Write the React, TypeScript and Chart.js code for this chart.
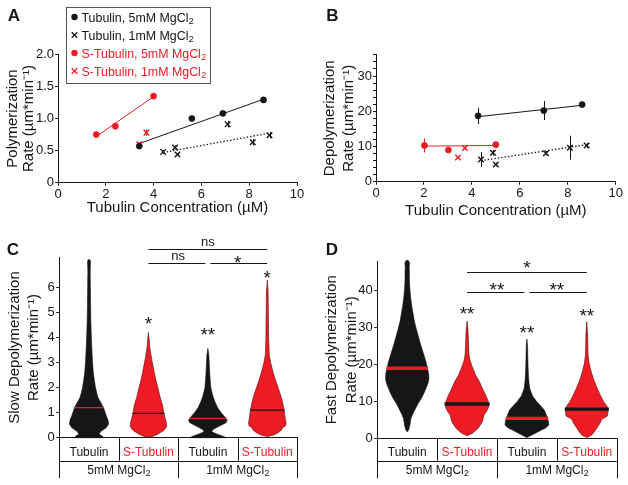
import React, { useEffect, useRef } from 'react';
import { Chart, registerables } from 'chart.js';

Chart.register(...registerables);

const FONT = "'Liberation Sans', Arial, Helvetica, sans-serif";
const INK = '#161616';
const RED = '#ed1c24';
Chart.defaults.font.family = FONT;

// ---------------- Panel A: polymerization rate ----------------
const aTub5X = [3.4, 5.6, 6.9, 8.6];
const aTub5Y = [0.57, 1.0, 1.08, 1.29];
const aTub5Err = [0.02, 0.02, 0.02, 0.02];
const aTub1X = [4.4, 4.9, 5.0, 7.1, 8.15, 8.85];
const aTub1Y = [0.48, 0.55, 0.44, 0.91, 0.63, 0.74];
const aTub1Err = [0.03, 0.03, 0.02, 0.05, 0.05, 0.05];
const aSTub5X = [1.6, 2.4, 4.0];
const aSTub5Y = [0.75, 0.88, 1.35];
const aSTub5Err = [0.02, 0.02, 0.02];
const aSTub1X = [3.4, 3.7];
const aSTub1Y = [0.6, 0.78];
const aSTub1Err = [0.03, 0.05];
const aTub5FitX = [3.4, 8.6];
const aTub5FitY = [0.61, 1.3];
const aTub1FitX = [4.4, 8.95];
const aTub1FitY = [0.47, 0.78];
const aSTub5FitX = [1.6, 4.0];
const aSTub5FitY = [0.72, 1.34];
const aXTicks = [0, 2, 4, 6, 8, 10];
const aYTicks = [0, 0.5, 1.0, 1.5, 2.0];
const aYTickLabels = ['0', '0.5', '1.0', '1.5', '2.0'];

// ---------------- Panel B: depolymerization rate ----------------
const bTub5X = [4.26, 7.0, 8.6];
const bTub5Y = [18.7, 20.2, 21.9];
const bTub5Err = [2.3, 2.7, 0.8];
const bTub1X = [4.38, 4.88, 5.0, 7.09, 8.09, 8.79];
const bTub1Y = [6.3, 8.2, 4.9, 8.1, 9.65, 10.3];
const bTub1Err = [2.1, 0.8, 0.5, 0.6, 3.4, 0.7];
const bSTub5X = [2.02, 3.02, 5.0];
const bSTub5Y = [10.3, 9.0, 10.5];
const bSTub5Err = [2.0, 0.5, 0.6];
const bSTub1X = [3.42, 3.71];
const bSTub1Y = [6.9, 9.55];
const bSTub1Err = [0.4, 0.5];
const bTub5FitX = [4.26, 8.6];
const bTub5FitY = [18.45, 21.7];
const bTub1FitX = [4.38, 8.79];
const bTub1FitY = [6.0, 10.5];
const bSTub5FitX = [2.0, 5.0];
const bSTub5FitY = [10.1, 10.3];
const bXTicks = [0, 2, 4, 6, 8, 10];
const bYTicks = [0, 2, 4, 6, 8, 10, 12, 14, 16, 18, 20, 22, 24, 26, 28, 30, 32, 34, 36];
const bYLabelled = [0, 10, 20, 30];

// ---------------- Series names ----------------
const seriesNames = [
  'Tubulin, 5mM MgCl₂',
  'Tubulin, 1mM MgCl₂',
  'S-Tubulin, 5mM MgCl₂',
  'S-Tubulin, 1mM MgCl₂',
];

// ---------------- Panels C & D: violins ----------------
const categories = ['Tubulin', 'S-Tubulin', 'Tubulin', 'S-Tubulin'];
const groupLabels = ['5mM MgCl₂', '1mM MgCl₂'];

// [rate, relative density]
const cTub5Profile = [[0, 0.75], [0.06, 0.68], [0.15, 0.52], [0.25, 0.6], [0.4, 0.88], [0.55, 1.0], [0.7, 0.97], [0.9, 0.87], [1.2, 0.74], [1.4, 0.6], [1.6, 0.46], [1.8, 0.39], [2.0, 0.33], [2.3, 0.27], [2.6, 0.22], [3.0, 0.18], [3.3, 0.16], [4.0, 0.12], [4.6, 0.095], [5.3, 0.08], [6.0, 0.07], [6.6, 0.06], [6.85, 0.065], [7.0, 0.08], [7.08, 0.06], [7.12, 0]];
const cSTub5Profile = [[0.02, 0], [0.06, 0.25], [0.15, 0.5], [0.3, 0.8], [0.45, 0.93], [0.65, 0.9], [0.97, 0.79], [1.3, 0.72], [1.6, 0.6], [2.0, 0.48], [2.3, 0.38], [2.6, 0.3], [3.0, 0.2], [3.3, 0.13], [3.6, 0.07], [3.9, 0.04], [4.2, 0]];
const cTub1Profile = [[0, 0.95], [0.05, 0.8], [0.15, 0.45], [0.24, 0.2], [0.32, 0.25], [0.45, 0.55], [0.6, 0.93], [0.7, 0.98], [0.8, 0.9], [1.0, 0.68], [1.2, 0.5], [1.45, 0.35], [1.7, 0.24], [2.0, 0.15], [2.5, 0.1], [3.0, 0.07], [3.3, 0.05], [3.56, 0]];
const cSTub1Profile = [[0.05, 0], [0.1, 0.3], [0.2, 0.55], [0.3, 0.72], [0.4, 0.78], [0.47, 0.92], [0.57, 0.96], [0.75, 0.92], [1.1, 0.86], [1.45, 0.77], [1.7, 0.68], [2.0, 0.55], [2.3, 0.42], [2.6, 0.3], [3.0, 0.17], [3.3, 0.1], [4.0, 0.07], [5.0, 0.055], [5.8, 0.045], [6.29, 0]];
const cMedians = [1.2, 0.97, 0.77, 1.1];
const cYTicks = [0, 1, 2, 3, 4, 5, 6];

const dTub5Profile = [[1.7, 0], [2.3, 0.07], [3.5, 0.12], [5.4, 0.17], [6.8, 0.27], [8.1, 0.38], [9.5, 0.5], [10.8, 0.64], [12.2, 0.76], [13.6, 0.86], [15, 0.95], [16.3, 0.99], [17.7, 0.97], [19, 0.92], [20.8, 0.85], [22.6, 0.76], [25, 0.63], [27.1, 0.53], [29.5, 0.42], [31.6, 0.33], [34, 0.26], [36.1, 0.2], [38.5, 0.15], [40.6, 0.12], [43, 0.1], [45, 0.1], [46.5, 0.09], [47.5, 0.11], [48.1, 0.06], [48.3, 0]];
const dSTub5Profile = [[0.7, 0], [1.35, 0.25], [2.7, 0.5], [4.5, 0.7], [6.3, 0.77], [7.2, 0.88], [8.3, 0.97], [9.3, 1.0], [10.5, 0.93], [11.7, 0.85], [13.5, 0.7], [15.4, 0.56], [17, 0.4], [19, 0.26], [21, 0.14], [22.6, 0.09], [25, 0.07], [27, 0.06], [29.5, 0.04], [31.8, 0]];
const dTub1Profile = [[0.2, 0], [0.9, 0.23], [1.6, 0.45], [2.3, 0.68], [2.8, 0.85], [3.6, 1.0], [4.5, 0.98], [5.4, 0.94], [6.5, 0.87], [7.7, 0.79], [8.8, 0.62], [9.9, 0.45], [11.5, 0.25], [13.6, 0.12], [16, 0.08], [18, 0.06], [22, 0.04], [25, 0.03], [26.9, 0]];
const dSTub1Profile = [[0.2, 0], [0.9, 0.23], [1.8, 0.35], [2.7, 0.45], [3.6, 0.55], [4.5, 0.64], [5.0, 0.66], [5.6, 0.8], [6.0, 0.93], [6.3, 0.95], [7.9, 0.98], [8.9, 0.9], [9.9, 0.77], [11.7, 0.62], [13.6, 0.47], [15.8, 0.32], [18.1, 0.2], [20.3, 0.11], [22.6, 0.06], [25, 0.05], [28, 0.04], [31.6, 0]];
const dMedians = [19.0, 9.3, 5.4, 7.9];
const dYTicks = [0, 10, 20, 30, 40];

const violinColors = [INK, RED, INK, RED];
const medianColors = [RED, INK, RED, INK];

// significance: [fromCategory, toCategory, rate]
const cSigBars = [[1, 3, 7.53], [1, 2, 6.98], [2, 3, 6.98]];
// [categoryPosition, rate, text]
const cSigText: [number, number, string][] = [[2, 7.77, 'ns'], [1.5, 7.22, 'ns'], [2.5, 7.16, '*'], [1, 4.76, '*'], [2, 4.3, '**'], [3, 6.56, '*']];
const dSigBars = [[1, 3, 45.0], [1, 2, 39.7], [2, 3, 39.7]];
const dSigText: [number, number, string][] = [[2, 47.5, '*'], [1.5, 41.7, '**'], [2.5, 41.7, '**'], [1, 35.0, '**'], [2, 30.0, '**'], [3, 34.5, '**']];

// ---------------- helpers ----------------
const pts = (xs: number[], ys: number[]) => xs.map((x, i) => ({ x, y: ys[i] }));

function drawSubText(ctx: CanvasRenderingContext2D, text: string, x: number, baseline: number, size: number, align: 'left' | 'center', color: string) {
  const m = text.match(/^(.*?)([\u2080-\u2089]+)$/);
  const main = m ? m[1] : text;
  const sub = m ? m[2].replace(/[\u2080-\u2089]/g, (c) => String(c.charCodeAt(0) - 0x2080)) : '';
  ctx.save();
  ctx.fillStyle = color;
  ctx.textAlign = 'left';
  ctx.textBaseline = 'alphabetic';
  ctx.font = `${size}px ${FONT}`;
  const wMain = ctx.measureText(main).width;
  ctx.font = `${size * 0.72}px ${FONT}`;
  const wSub = ctx.measureText(sub).width;
  const x0 = align === 'center' ? x - (wMain + wSub) / 2 : x;
  ctx.font = `${size}px ${FONT}`;
  ctx.fillText(main, x0, baseline);
  ctx.font = `${size * 0.72}px ${FONT}`;
  ctx.fillText(sub, x0 + wMain + 0.3, baseline + size * 0.22);
  ctx.restore();
}

function letterPlugin(letter: string, x: number, y: number) {
  return {
    id: 'panelLetter',
    afterDraw(chart: any) {
      const ctx = chart.ctx;
      ctx.save();
      ctx.font = `bold 17px ${FONT}`;
      ctx.fillStyle = INK;
      ctx.textAlign = 'center';
      ctx.textBaseline = 'alphabetic';
      ctx.fillText(letter, x, y + 6.1);
      ctx.restore();
    },
  };
}

const errorBarPlugin = {
  id: 'errorBars',
  beforeDatasetsDraw(chart: any) {
    const { ctx, scales } = chart;
    const xs = scales.x, ys = scales.y;
    chart.data.datasets.forEach((ds: any) => {
      if (!ds.errors) return;
      ctx.save();
      ctx.strokeStyle = ds.borderColor;
      ctx.lineWidth = 1;
      ds.data.forEach((p: any, i: number) => {
        const e = ds.errors[i];
        if (!e) return;
        const px = Math.round(xs.getPixelForValue(p.x)) + 0.5;
        ctx.beginPath();
        ctx.moveTo(px, ys.getPixelForValue(p.y - e));
        ctx.lineTo(px, ys.getPixelForValue(p.y + e));
        ctx.stroke();
      });
      ctx.restore();
    });
  },
};

function legendPlugin(box: { x: number; y: number; w: number; h: number }) {
  return {
    id: 'boxLegend',
    afterDraw(chart: any) {
      const ctx: CanvasRenderingContext2D = chart.ctx;
      const items = chart.data.datasets.filter((d: any) => d.label);
      ctx.save();
      ctx.fillStyle = '#fff';
      ctx.fillRect(box.x, box.y, box.w, box.h);
      ctx.strokeStyle = '#555';
      ctx.lineWidth = 1;
      ctx.strokeRect(box.x + 0.5, box.y + 0.5, box.w, box.h);
      items.forEach((d: any, i: number) => {
        const cy = box.y + 10 + i * 18;
        const mx = box.x + 8.5;
        ctx.fillStyle = d.borderColor;
        ctx.strokeStyle = d.borderColor;
        if (d.pointStyle === 'circle') {
          ctx.beginPath();
          ctx.arc(mx, cy, 3.2, 0, Math.PI * 2);
          ctx.fill();
        } else {
          ctx.lineWidth = 1.3;
          ctx.beginPath();
          ctx.moveTo(mx - 2.8, cy - 2.8);
          ctx.lineTo(mx + 2.8, cy + 2.8);
          ctx.moveTo(mx - 2.8, cy + 2.8);
          ctx.lineTo(mx + 2.8, cy - 2.8);
          ctx.stroke();
        }
        drawSubText(ctx, d.label, box.x + 15.5, cy + 4.5, 12.4, 'left', d.borderColor);
      });
      ctx.restore();
    },
  };
}

function interpProfile(prof: number[][], v: number) {
  for (let i = 1; i < prof.length; i++) {
    const [v0, d0] = prof[i - 1];
    const [v1, d1] = prof[i];
    if (v >= v0 && v <= v1) return d0 + ((d1 - d0) * (v - v0)) / (v1 - v0 || 1);
  }
  return 0;
}

function violinPlugin(profiles: number[][][], colors: string[], frac: number) {
  return {
    id: 'violins',
    beforeDatasetsDraw(chart: any) {
      const { ctx, scales } = chart;
      const xs = scales.x, ys = scales.y;
      const W = (xs.getPixelForValue(1) - xs.getPixelForValue(0)) * frac;
      profiles.forEach((prof, i) => {
        const cx = xs.getPixelForValue(i);
        ctx.save();
        ctx.beginPath();
        prof.forEach(([v, d], k) => {
          const px = cx - d * W, py = ys.getPixelForValue(v);
          if (k === 0) ctx.moveTo(px, py); else ctx.lineTo(px, py);
        });
        for (let k = prof.length - 1; k >= 0; k--) {
          const [v, d] = prof[k];
          ctx.lineTo(cx + d * W, ys.getPixelForValue(v));
        }
        ctx.closePath();
        ctx.fillStyle = colors[i];
        ctx.fill();
        ctx.lineWidth = 0.6;
        ctx.strokeStyle = colors[i] === RED ? '#5a0a0a' : INK;
        ctx.stroke();
        ctx.restore();
      });
    },
  };
}

function tablePlugin(groups: string[], row1: number, row2: number) {
  return {
    id: 'catTable',
    afterDraw(chart: any) {
      const { ctx, chartArea: a, scales } = chart;
      const xs = scales.x;
      const n = chart.data.labels.length;
      const y0 = a.bottom, y1 = a.bottom + row1, y2 = y1 + row2;
      ctx.save();
      ctx.strokeStyle = INK;
      ctx.lineWidth = 1;
      ctx.beginPath();
      ctx.moveTo(a.left, Math.round(y1) + 0.5);
      ctx.lineTo(a.right, Math.round(y1) + 0.5);
      for (let i = 0; i <= n; i++) {
        const px = Math.round(xs.getPixelForValue(i - 0.5)) + 0.5;
        ctx.moveTo(px, y0);
        ctx.lineTo(px, i % 2 === 0 ? y2 : y1);
      }
      ctx.stroke();
      ctx.restore();
      groups.forEach((g, k) => {
        const cx = (xs.getPixelForValue(2 * k) + xs.getPixelForValue(2 * k + 1)) / 2;
        drawSubText(ctx, g, cx, (y1 + y2) / 2 + 4.3, 12, 'center', INK);
      });
    },
  };
}

function sigPlugin(bars: number[][], texts: [number, number, string][]) {
  return {
    id: 'significance',
    afterDraw(chart: any) {
      const { ctx, scales } = chart;
      const xs = scales.x, ys = scales.y;
      ctx.save();
      ctx.strokeStyle = INK;
      ctx.lineWidth = 1;
      bars.forEach((b) => {
        const [from, to, v] = b;
        let x0 = xs.getPixelForValue(from);
        let x1 = xs.getPixelForValue(to);
        if (bars.some((o) => o !== b && o[2] === v && o[1] === from)) x0 += 2.5;
        if (bars.some((o) => o !== b && o[2] === v && o[0] === to)) x1 -= 2.5;
        const py = Math.round(ys.getPixelForValue(v)) + 0.5;
        ctx.beginPath();
        ctx.moveTo(x0, py);
        ctx.lineTo(x1, py);
        ctx.stroke();
      });
      ctx.fillStyle = INK;
      ctx.textAlign = 'center';
      ctx.textBaseline = 'alphabetic';
      texts.forEach(([cat, v, t]) => {
        const star = /^\*+$/.test(t);
        const size = star ? 19 : 13;
        ctx.font = `${size}px ${FONT}`;
        ctx.fillText(t, xs.getPixelForValue(cat), ys.getPixelForValue(v) + (star ? 0.585 : 0.26) * size);
      });
      ctx.restore();
    },
  };
}

// ---------------- chart builders ----------------
type Area = { w: number; h: number; left: number; right: number; top: number; bottom: number };

function axisBase(tickFont: number) {
  return {
    grid: { display: true, drawOnChartArea: false, drawTicks: true, tickLength: 3, color: INK, tickColor: INK, lineWidth: 1 },
    border: { display: true, color: INK, width: 1 },
    ticks: { font: { family: FONT, size: tickFont }, color: INK, maxRotation: 0, autoSkip: false },
  };
}

function scatterConfig(opts: {
  area: Area;
  groups: { x: number[]; y: number[]; err: number[] }[];
  fits: { x: number[]; y: number[]; dotted: boolean; color: string }[];
  xTicks: number[];
  yTicks: number[];
  yMax: number;
  yLabel: (v: number) => string;
  yTitle: string[];
  yTitleLH: number;
  yTitlePad: number;
  xTitlePad: number;
  legend: boolean;
  letter: [string, number, number];
}) {
  const { area } = opts;
  const styles = [
    { color: INK, style: 'circle' },
    { color: INK, style: 'crossRot' },
    { color: RED, style: 'circle' },
    { color: RED, style: 'crossRot' },
  ];
  const datasets: any[] = [];
  opts.fits.forEach((f) => {
    datasets.push({
      data: pts(f.x, f.y),
      showLine: true,
      borderColor: f.color,
      borderWidth: f.dotted ? 1.3 : 1,
      borderDash: f.dotted ? [1.4, 2] : [],
      pointRadius: 0,
      fill: false,
      order: 2,
    });
  });
  opts.groups.forEach((g, i) => {
    const s = styles[i];
    datasets.push({
      label: seriesNames[i],
      data: pts(g.x, g.y),
      errors: g.err,
      showLine: false,
      pointStyle: s.style,
      pointRadius: s.style === 'circle' ? 3.1 : 3.9,
      pointBorderWidth: s.style === 'circle' ? 0.5 : 1.4,
      borderColor: s.color,
      backgroundColor: s.color,
      pointBackgroundColor: s.color,
      pointBorderColor: s.color,
      order: 1,
    });
  });
  const xb = axisBase(13);
  const yb = axisBase(13);
  const plugins: any[] = [errorBarPlugin, letterPlugin(...opts.letter)];
  if (opts.legend) plugins.push(legendPlugin({ x: 66, y: 7, w: 144, h: 76 }));
  return {
    type: 'scatter',
    data: { datasets },
    plugins,
    options: {
      animation: false,
      responsive: false,
      devicePixelRatio: 1,
      events: [],
      layout: { padding: { left: 0, top: area.top, right: area.w - area.right, bottom: 0 } },
      plugins: { legend: { display: false }, tooltip: { enabled: false } },
      scales: {
        x: {
          type: 'linear',
          min: opts.xTicks[0],
          max: opts.xTicks[opts.xTicks.length - 1],
          afterBuildTicks: (s: any) => { s.ticks = opts.xTicks.map((v) => ({ value: v })); },
          afterFit: (s: any) => { s.height = area.h - area.bottom; },
          ...xb,
          ticks: { ...xb.ticks, padding: 1 },
          title: {
            display: true,
            text: 'Tubulin Concentration (µM)',
            color: INK,
            font: { family: FONT, size: 15, lineHeight: 1.2 },
            padding: { top: 0, bottom: opts.xTitlePad },
          },
        },
        y: {
          type: 'linear',
          min: 0,
          max: opts.yMax,
          afterBuildTicks: (s: any) => { s.ticks = opts.yTicks.map((v) => ({ value: v })); },
          afterFit: (s: any) => { s.width = area.left; },
          ...yb,
          ticks: { ...yb.ticks, padding: 1, callback: (v: any) => opts.yLabel(Number(v)) },
          title: {
            display: true,
            text: opts.yTitle,
            color: INK,
            font: { family: FONT, size: 15, lineHeight: opts.yTitleLH / 15 },
            padding: { top: opts.yTitlePad, bottom: 0 },
          },
        },
      },
    },
  } as any;
}

function violinConfig(opts: {
  area: Area;
  profiles: number[][][];
  medians: number[];
  yMax: number;
  yTicks: number[];
  yTitle: string[];
  yTitleLH: number;
  yTitlePad: number;
  frac: number;
  medianWidth: number;
  bars: number[][];
  texts: [number, number, string][];
  letter: [string, number, number];
  row1: number;
  row2: number;
  labelPad: number;
}) {
  const { area } = opts;
  const yb = axisBase(13);
  return {
    type: 'line',
    data: {
      labels: categories,
      datasets: [
        {
          data: opts.medians,
          showLine: false,
          pointStyle: 'line',
          pointRadius: (c: any) => {
            if (c.dataIndex == null || !c.chart.scales.x) return 0;
            const xs = c.chart.scales.x;
            const W = (xs.getPixelForValue(1) - xs.getPixelForValue(0)) * opts.frac;
            const i = c.dataIndex;
            return interpProfile(opts.profiles[i], opts.medians[i]) * W + 0.5;
          },
          pointBorderWidth: opts.medianWidth,
          pointBorderColor: medianColors,
          pointBackgroundColor: medianColors,
          borderColor: INK,
        },
      ],
    },
    plugins: [
      violinPlugin(opts.profiles, violinColors, opts.frac),
      tablePlugin(groupLabels, opts.row1, opts.row2),
      sigPlugin(opts.bars, opts.texts),
      letterPlugin(...opts.letter),
    ],
    options: {
      animation: false,
      responsive: false,
      devicePixelRatio: 1,
      events: [],
      layout: { padding: { left: 0, top: area.top, right: area.w - area.right, bottom: 0 } },
      plugins: { legend: { display: false }, tooltip: { enabled: false } },
      scales: {
        x: {
          type: 'category',
          offset: true,
          afterFit: (s: any) => { s.height = area.h - area.bottom; },
          grid: { display: false, drawTicks: false },
          border: { display: true, color: INK, width: 1 },
          ticks: {
            font: { family: FONT, size: 12 },
            color: (c: any) => (c.index % 2 ? RED : INK),
            padding: opts.labelPad,
            maxRotation: 0,
            autoSkip: false,
          },
        },
        y: {
          type: 'linear',
          min: 0,
          max: opts.yMax,
          afterBuildTicks: (s: any) => { s.ticks = opts.yTicks.map((v) => ({ value: v })); },
          afterFit: (s: any) => { s.width = area.left; },
          ...yb,
          ticks: { ...yb.ticks, padding: 1.5 },
          title: {
            display: true,
            text: opts.yTitle,
            color: INK,
            font: { family: FONT, size: 15, lineHeight: opts.yTitleLH / 15 },
            padding: { top: opts.yTitlePad, bottom: 0 },
          },
        },
      },
    },
  } as any;
}

const makeA = () =>
  scatterConfig({
    area: { w: 314, h: 240, left: 58, right: 297, top: 54.3, bottom: 182.7 },
    groups: [
      { x: aTub5X, y: aTub5Y, err: aTub5Err },
      { x: aTub1X, y: aTub1Y, err: aTub1Err },
      { x: aSTub5X, y: aSTub5Y, err: aSTub5Err },
      { x: aSTub1X, y: aSTub1Y, err: aSTub1Err },
    ],
    fits: [
      { x: aTub5FitX, y: aTub5FitY, dotted: false, color: INK },
      { x: aTub1FitX, y: aTub1FitY, dotted: true, color: INK },
      { x: aSTub5FitX, y: aSTub5FitY, dotted: false, color: RED },
    ],
    xTicks: aXTicks,
    yTicks: aYTicks,
    yMax: 2.0,
    yLabel: (v) => aYTickLabels[aYTicks.indexOf(v)] ?? '',
    yTitle: ['Polymerization', 'Rate (µm*min⁻¹)'],
    yTitleLH: 16,
    yTitlePad: 5.3,
    xTitlePad: 23,
    legend: true,
    letter: ['A', 14, 14.5],
  });

const makeB = () =>
  scatterConfig({
    area: { w: 314, h: 240, left: 62, right: 301.7, top: 54.9, bottom: 181.7 },
    groups: [
      { x: bTub5X, y: bTub5Y, err: bTub5Err },
      { x: bTub1X, y: bTub1Y, err: bTub1Err },
      { x: bSTub5X, y: bSTub5Y, err: bSTub5Err },
      { x: bSTub1X, y: bSTub1Y, err: bSTub1Err },
    ],
    fits: [
      { x: bTub5FitX, y: bTub5FitY, dotted: false, color: INK },
      { x: bTub1FitX, y: bTub1FitY, dotted: true, color: INK },
      { x: bSTub5FitX, y: bSTub5FitY, dotted: false, color: RED },
    ],
    xTicks: bXTicks,
    yTicks: bYTicks,
    yMax: 36,
    yLabel: (v) => (bYLabelled.includes(v) ? String(v) : ''),
    yTitle: ['Depolymerization', 'Rate (µm*min⁻¹)'],
    yTitleLH: 19,
    yTitlePad: 6.7,
    xTitlePad: 20,
    legend: false,
    letter: ['B', 18.3, 14.5],
  });

// lower panels: canvases start 15px above the panel split so the top "ns" is not clipped
const makeC = () =>
  violinConfig({
    area: { w: 314, h: 260, left: 59.3, right: 297, top: 32.3, bottom: 212.7 },
    profiles: [cTub5Profile, cSTub5Profile, cTub1Profile, cSTub1Profile],
    medians: cMedians,
    yMax: 7.2,
    yTicks: cYTicks,
    yTitle: ['Slow Depolymerization', 'Rate (µm*min⁻¹)'],
    yTitleLH: 18.7,
    yTitlePad: 5.6,
    frac: 0.33,
    medianWidth: 1.4,
    bars: cSigBars,
    texts: cSigText,
    letter: ['C', 13, 23.8],
    row1: 23,
    row2: 17.3,
    labelPad: 7.5,
  });

const makeD = () =>
  violinConfig({
    area: { w: 314, h: 260, left: 63.3, right: 302.7, top: 36.2, bottom: 213.3 },
    profiles: [dTub5Profile, dSTub5Profile, dTub1Profile, dSTub1Profile],
    medians: dMedians,
    yMax: 48,
    yTicks: dYTicks,
    yTitle: ['Fast Depolymerization', 'Rate (µm*min⁻¹)'],
    yTitleLH: 20,
    yTitlePad: 7.5,
    frac: 0.367,
    medianWidth: 3.4,
    bars: dSigBars,
    texts: dSigText,
    letter: ['D', 17.8, 24],
    row1: 22.4,
    row2: 17.6,
    labelPad: 7,
  });

function ChartCanvas({ left, top, width, height, make }: { left: number; top: number; width: number; height: number; make: () => any }) {
  const ref = useRef<HTMLCanvasElement>(null);
  useEffect(() => {
    const chart = new Chart(ref.current as HTMLCanvasElement, make());
    return () => chart.destroy();
  }, []);
  return (
    <canvas
      ref={ref}
      width={width}
      height={height}
      style={{ position: 'absolute', left, top, width, height, display: 'block' }}
    />
  );
}

export default function App() {
  return (
    <div style={{ position: 'absolute', left: 0, top: 0, width: 628, height: 485, background: '#fff', overflow: 'hidden' }}>
      <ChartCanvas left={0} top={0} width={314} height={240} make={makeA} />
      <ChartCanvas left={314} top={0} width={314} height={240} make={makeB} />
      <ChartCanvas left={0} top={225} width={314} height={260} make={makeC} />
      <ChartCanvas left={314} top={225} width={314} height={260} make={makeD} />
    </div>
  );
}
